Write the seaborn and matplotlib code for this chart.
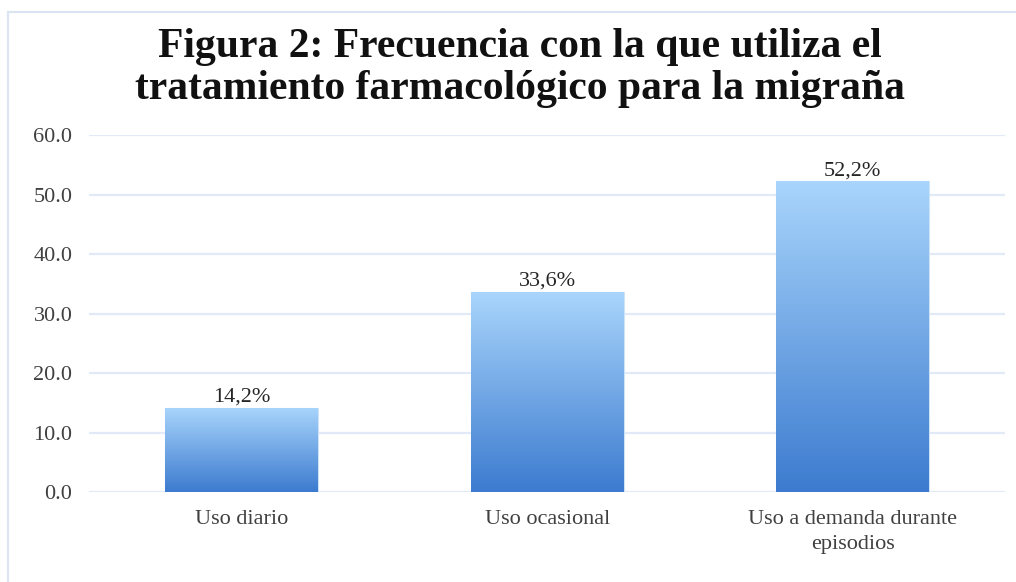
import numpy as np
import pandas as pd
import matplotlib
matplotlib.use("Agg")
import matplotlib.pyplot as plt
import seaborn as sns
from matplotlib.colors import LinearSegmentedColormap
from matplotlib.patches import Rectangle

# data
categories = ["Uso diario", "Uso ocasional", "Uso a demanda durante\nepisodios"]
values = [14.2, 33.6, 52.2]
labels = ["14,2%", "33,6%", "52,2%"]
yticks = [0, 10, 20, 30, 40, 50, 60]

df = pd.DataFrame({"categoria": categories, "valor": values})

sns.set_style("white")
plt.rcParams["font.family"] = ["Liberation Serif", "DejaVu Serif"]

fig = plt.figure(figsize=(10.16, 5.82), dpi=100)
ax = fig.add_axes([0.0876, 0.1546, 0.902, 0.6134])

sns.barplot(data=df, x="categoria", y="valor", width=0.5, color="#5b9bd5", ax=ax, zorder=3)

# vertical gradient inside each bar
cmap = LinearSegmentedColormap.from_list("grad", ["#3c7bcf", "#a9d5fc"])
grad = np.linspace(0, 1, 256).reshape(-1, 1)
for p in ax.patches:
    x0, w, h = p.get_x(), p.get_width(), p.get_height()
    im = ax.imshow(grad, cmap=cmap, origin="lower", aspect="auto",
                   extent=[x0, x0 + w, 0, h], zorder=4)
    im.set_clip_path(p)
    p.set_facecolor("none")
    p.set_edgecolor("#cfe3f7")
    p.set_linewidth(0.8)

for i, (v, lab) in enumerate(zip(values, labels)):
    ax.text(i, v + 0.2, lab, ha="center", va="bottom", fontsize=16, color="#262626", zorder=5)

ax.set_xlim(-0.5, 2.5)
ax.set_ylim(0, 60)
ax.set_yticks(yticks)
ax.set_yticklabels([f"{t:.1f}" for t in yticks], fontsize=16, color="#404040")
ax.set_xticks(range(len(categories)))
ax.set_xticklabels(categories, fontsize=16, color="#404040", linespacing=1.45)
ax.tick_params(axis="x", length=0, pad=13)
ax.tick_params(axis="y", length=0, pad=12)
ax.grid(axis="y", color="#e1eaf6", linewidth=1.6, zorder=0)
ax.set_axisbelow(True)
for s in ax.spines.values():
    s.set_visible(False)
ax.set_xlabel("")
ax.set_ylabel("")

fig.text(0.512, 0.883, "Figura 2: Frecuencia con la que utiliza el\ntratamiento farmacológico para la migraña",
         ha="center", va="center", fontsize=30, fontweight="bold", color="#111111",
         linespacing=1.15)

# outer chart border
fig.patches.append(Rectangle((8 / 1016, -0.1), 1.2, 1.1 - 12 / 582,
                             transform=fig.transFigure, fill=False,
                             edgecolor="#dbe5f1", linewidth=1.5))

fig.savefig("out.png", dpi=100, facecolor="white")
